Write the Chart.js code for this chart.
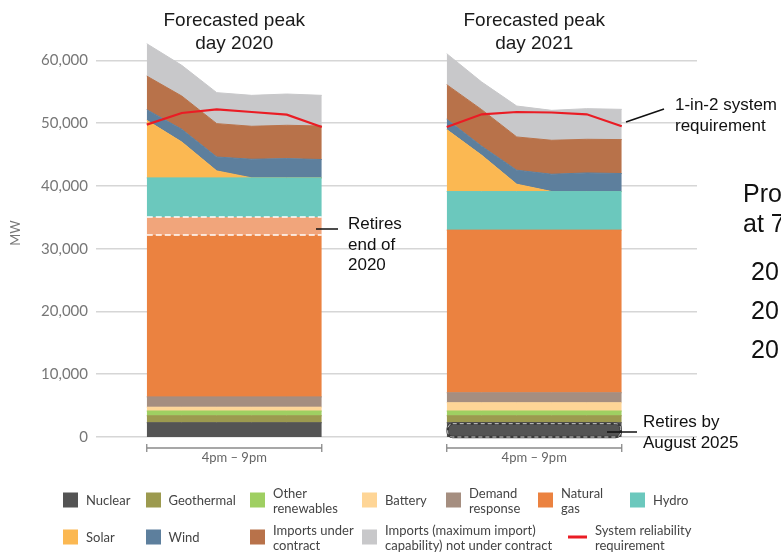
<!DOCTYPE html>
<html>
<head>
<meta charset="utf-8">
<script src="https://cdn.jsdelivr.net/npm/chart.js@4.4.1/dist/chart.umd.min.js"></script>
<style>
  html, body { margin: 0; padding: 0; background: #fff; }
  body { width: 781px; height: 552px; position: relative; overflow: hidden; font-family: 'Liberation Sans', Arial, sans-serif; }
  #chart { position: absolute; left: 0; top: 0; }
  .title { position: absolute; width: 220px; text-align: center; font-size: 19px; line-height: 22.5px; color: #1a1a1a; }
  .note { position: absolute; font-size: 17px; line-height: 20.5px; color: #111; white-space: nowrap; }
  .big { position: absolute; font-size: 25px; color: #111; white-space: nowrap; }
  .lg { position: absolute; display: flex; align-items: center; transform: translateY(-50%);
        font-family: Lato, sans-serif; font-size: 13px; line-height: 14.5px; color: #444; white-space: nowrap; }
  .sw { width: 15px; height: 15px; margin-right: 8px; flex: none; }
  .sw.line { width: 19px; height: 2.5px; }
  svg { position: absolute; left: 0; top: 0; }
</style>
</head>
<body>
<canvas id="chart" width="781" height="552"></canvas>
<svg width="781" height="552">
  <line x1="316" y1="229" x2="338" y2="229" stroke="#111" stroke-width="1.5"/>
  <line x1="626" y1="122" x2="664" y2="109" stroke="#111" stroke-width="1.5"/>
  <line x1="607" y1="432" x2="637" y2="432" stroke="#111" stroke-width="1.5"/>
</svg>
<div class="note" style="left:348px; top:214px;">Retires<br>end of<br>2020</div>
<div class="note" style="left:675px; top:95px;">1-in-2 system<br>requirement</div>
<div class="note" style="left:643px; top:412px;">Retires by<br>August 2025</div>
<div class="big" style="left:743px; top:178px; line-height:30px;">Pro<br>at 7</div>
<div class="big" style="left:751px; top:252px; line-height:39px;">20<br>20<br>20</div>
<div id="legend"></div>
<script>
// Data (MW), one value per hour 4pm..9pm
const hours = ['4pm', '5pm', '6pm', '7pm', '8pm', '9pm'];
const years = ['2020', '2021'];
const yTicks = [0, 10000, 20000, 30000, 40000, 50000, 60000];
const seriesNames = ['Nuclear', 'Geothermal', 'Other\nrenewables', 'Battery', 'Demand\nresponse',
  'Natural\ngas', 'Hydro', 'Solar', 'Wind', 'Imports under\ncontract',
  'Imports (maximum import)\ncapability) not under contract'];
const requirementName = 'System reliability\nrequirement';

// 2020 layers (bottom to top)
const nuclear2020 = [2280, 2280, 2280, 2280, 2280, 2280];
const geothermal2020 = [1110, 1110, 1110, 1110, 1110, 1110];
const otherRen2020 = [750, 750, 750, 750, 750, 750];
const battery2020 = [610, 610, 610, 610, 610, 610];
const demandResp2020 = [1640, 1640, 1640, 1640, 1640, 1640];
const natGas2020 = [25780, 25780, 25780, 25780, 25780, 25780];
const natGasRetiring2020 = [2880, 2880, 2880, 2880, 2880, 2880];
const hydro2020 = [6230, 6230, 6230, 6230, 6230, 6230];
const solar2020 = [9170, 5720, 1110, 0, 0, 0];
const wind2020 = [1700, 2020, 2220, 2970, 3070, 2920];
const importsContract2020 = [5350, 5300, 5310, 5250, 5310, 5350];
const importsOther2020 = [5160, 4890, 4940, 4930, 4980, 4880];
const requirement2020 = [49770, 51620, 52200, 51780, 51360, 49390];

// 2021 layers (bottom to top)
const nuclear2021 = [2280, 2280, 2280, 2280, 2280, 2280];
const geothermal2021 = [1110, 1110, 1110, 1110, 1110, 1110];
const otherRen2021 = [750, 750, 750, 750, 750, 750];
const battery2021 = [1320, 1320, 1320, 1320, 1320, 1320];
const demandResp2021 = [1590, 1590, 1590, 1590, 1590, 1590];
const natGas2021 = [25910, 25910, 25910, 25910, 25910, 25910];
const hydro2021 = [6140, 6140, 6140, 6140, 6140, 6140];
const solar2021 = [9870, 5780, 1170, 0, 0, 0];
const wind2021 = [1640, 1440, 2230, 2760, 2970, 2870];
const importsContract2021 = [5520, 5830, 5300, 5410, 5360, 5410];
const importsOther2021 = [4940, 4400, 4930, 4770, 4880, 4820];
const requirement2021 = [49390, 51410, 51780, 51700, 51410, 49500];

// styles / layout
const colors = ['#545454', '#9c9a4f', '#9fcf62', '#fed596', '#a58e80', '#eb8240',
  '#6bc8bd', '#fbb852', '#5d7f9d', '#b8724a', '#c8c8ca'];
const retiringColor = '#f1a57b';
const redColor = '#ea1c24';
const groupOffset = [0, 8.57]; // x position of each group's 4pm point, in hour units
const legendX = [63, 145.5, 250, 362, 446, 538, 630];
const legendRowY = [500, 537];

function layer(label, values, g, color, extra) {
  return Object.assign({
    label: label,
    data: values.map((v, i) => ({ x: groupOffset[g] + i, y: v })),
    stack: 'y' + years[g],
    backgroundColor: color,
    borderColor: color,
    borderWidth: 1,
    fill: '-1',
    pointRadius: 0,
    tension: 0
  }, extra || {});
}

const whiteDash = { borderColor: '#ffffff', borderWidth: 1.5, borderDash: [6, 3] };

const datasets = [
  layer(requirementName, requirement2020, 0, redColor, { stack: 'r2020', fill: false, borderWidth: 2.2 }),
  layer(requirementName, requirement2021, 1, redColor, { stack: 'r2021', fill: false, borderWidth: 2.2 }),
  // 2020
  layer(seriesNames[0], nuclear2020, 0, colors[0], { fill: 'origin' }),
  layer(seriesNames[1], geothermal2020, 0, colors[1]),
  layer(seriesNames[2], otherRen2020, 0, colors[2]),
  layer(seriesNames[3], battery2020, 0, colors[3]),
  layer(seriesNames[4], demandResp2020, 0, colors[4]),
  layer(seriesNames[5], natGas2020, 0, colors[5], whiteDash),
  layer(seriesNames[5] + ' (retiring)', natGasRetiring2020, 0, retiringColor, whiteDash),
  layer(seriesNames[6], hydro2020, 0, colors[6]),
  layer(seriesNames[7], solar2020, 0, colors[7]),
  layer(seriesNames[8], wind2020, 0, colors[8]),
  layer(seriesNames[9], importsContract2020, 0, colors[9]),
  layer(seriesNames[10], importsOther2020, 0, colors[10]),
  // 2021
  layer(seriesNames[0], nuclear2021, 1, colors[0], { fill: 'origin' }),
  layer(seriesNames[1], geothermal2021, 1, colors[1]),
  layer(seriesNames[2], otherRen2021, 1, colors[2]),
  layer(seriesNames[3], battery2021, 1, colors[3]),
  layer(seriesNames[4], demandResp2021, 1, colors[4]),
  layer(seriesNames[5], natGas2021, 1, colors[5]),
  layer(seriesNames[6], hydro2021, 1, colors[6]),
  layer(seriesNames[7], solar2021, 1, colors[7]),
  layer(seriesNames[8], wind2021, 1, colors[8]),
  layer(seriesNames[9], importsContract2021, 1, colors[9]),
  layer(seriesNames[10], importsOther2021, 1, colors[10])
];
const nuclear2021Index = 14;

// brackets under each group + dashed outline round the retiring nuclear band
const groupGuides = {
  id: 'groupGuides',
  afterDatasetsDraw(chart) {
    const { ctx, scales: { x, y } } = chart;
    ctx.save();
    years.forEach((yr, g) => {
      const x0 = x.getPixelForValue(groupOffset[g]);
      const x1 = x.getPixelForValue(groupOffset[g] + hours.length - 1);
      const yb = y.getPixelForValue(0) + 11;
      ctx.strokeStyle = '#8a8a8a';
      ctx.lineWidth = 1.3;
      ctx.beginPath();
      ctx.moveTo(x0, yb); ctx.lineTo(x1, yb);
      ctx.moveTo(x0, yb - 4); ctx.lineTo(x0, yb + 4);
      ctx.moveTo(x1, yb - 4); ctx.lineTo(x1, yb + 4);
      ctx.stroke();
      ctx.fillStyle = '#666';
      ctx.font = '13px Lato';
      ctx.textAlign = 'center';
      ctx.textBaseline = 'middle';
      ctx.fillText(hours[0] + ' \u2013 ' + hours[hours.length - 1], (x0 + x1) / 2, yb + 10);
    });

    const pts = chart.getDatasetMeta(nuclear2021Index).data;
    const left = pts[0].x, right = pts[pts.length - 1].x;
    const top = Math.min(...pts.map(p => p.y)), bottom = y.getPixelForValue(0);
    ctx.beginPath();
    ctx.roundRect(left + 1, top + 1, right - left - 2, bottom - top - 1, 5);
    ctx.strokeStyle = '#3a3a3a';
    ctx.lineWidth = 2.5;
    ctx.stroke();
    ctx.setLineDash([4, 3]);
    ctx.strokeStyle = '#cfcfcf';
    ctx.lineWidth = 1;
    ctx.stroke();
    ctx.restore();
  }
};

const chart = new Chart(document.getElementById('chart'), {
  type: 'line',
  data: { datasets: datasets },
  options: {
    responsive: false,
    animation: false,
    layout: { padding: { left: 0, right: 84, top: 29, bottom: 115 } },
    plugins: { legend: { display: false }, tooltip: { enabled: false } },
    scales: {
      x: { type: 'linear', min: -1.45, max: 15.72, display: false },
      y: {
        stacked: true,
        min: 0,
        max: 65000,
        afterBuildTicks: axis => { axis.ticks = yTicks.map(v => ({ value: v })); },
        afterFit: axis => { axis.width = 96; },
        ticks: { autoSkip: false, padding: 8, color: '#777', font: { family: 'Lato', size: 15 } },
        grid: { color: '#d6d6d6', lineWidth: 1.5, drawTicks: false },
        border: { display: false },
        title: { display: true, text: 'MW', color: '#777', font: { family: 'Lato', size: 13 }, padding: { top: 8, bottom: 0 } }
      }
    }
  },
  plugins: [groupGuides]
});

// group titles centred over each stack
years.forEach((yr, g) => {
  const xs = chart.scales.x;
  const cx = (xs.getPixelForValue(groupOffset[g]) + xs.getPixelForValue(groupOffset[g] + hours.length - 1)) / 2;
  const t = document.createElement('div');
  t.className = 'title';
  t.style.left = (cx - 110) + 'px';
  t.style.top = '9px';
  t.innerHTML = 'Forecasted peak<br>day ' + yr;
  document.body.appendChild(t);
});

// legend: seven entries per row, then the requirement line
const legend = document.getElementById('legend');
const legendEntries = seriesNames.map((n, i) => ({ name: n, color: colors[i], line: false }))
  .concat([{ name: requirementName, color: redColor, line: true }]);
legendEntries.forEach((e, i) => {
  const row = i < 7 ? 0 : 1;
  const col = i < 7 ? i : i - 7;
  const item = document.createElement('div');
  item.className = 'lg';
  item.style.left = (e.line ? 568 : legendX[col]) + 'px';
  item.style.top = legendRowY[row] + 'px';
  const sw = document.createElement('div');
  sw.className = 'sw' + (e.line ? ' line' : '');
  sw.style.background = e.color;
  const txt = document.createElement('div');
  txt.innerHTML = e.name.split('\n').join('<br>');
  item.appendChild(sw);
  item.appendChild(txt);
  legend.appendChild(item);
});
</script>
</body>
</html>
